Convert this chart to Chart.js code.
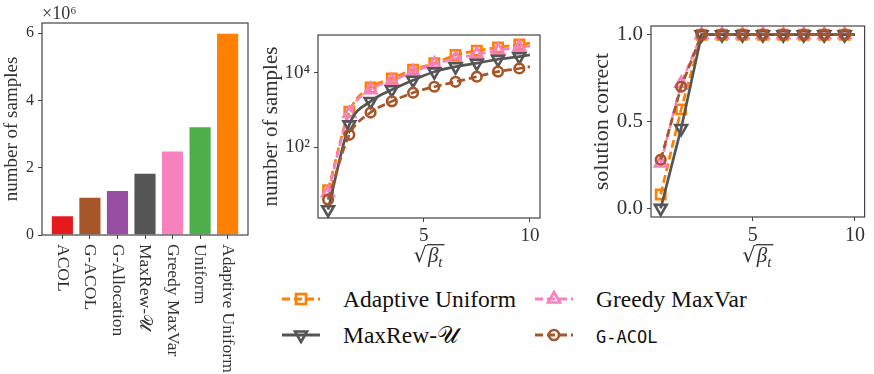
<!DOCTYPE html>
<html><head><meta charset="utf-8">
<script src="https://cdn.jsdelivr.net/npm/chart.js@4.4.1/dist/chart.umd.min.js"></script>
<style>
html,body{margin:0;padding:0;background:#fff;}
#wrap{position:relative;width:874px;height:374px;overflow:hidden;background:#fff;}
canvas{position:absolute;}
.leg{position:absolute;display:flex;align-items:center;height:30px;font-family:"Liberation Serif",serif;font-size:23.5px;color:#111;white-space:nowrap;}
.leg svg{margin-right:23px;flex:none;}
.mono{font-family:"DejaVu Sans Mono",monospace;font-size:17px;}
</style></head><body>
<div id="wrap">
<canvas id="bar" width="252" height="374" style="left:0;top:0"></canvas>
<canvas id="samp" width="300" height="270" style="left:252px;top:0"></canvas>
<canvas id="corr" width="314" height="270" style="left:560px;top:0"></canvas>
<div id="legend"></div>
</div>
<script>
// ---------------- data ----------------
const methods = ['ACOL', 'G-ACOL', 'G-Allocation', 'MaxRew-\u{1D4B0}', 'Greedy MaxVar', 'Uniform', 'Adaptive Uniform'];
const totalSamples = [0.59e6, 1.14e6, 1.34e6, 1.85e6, 2.51e6, 3.23e6, 6.01e6];
const barTicks = [0, 2e6, 4e6, 6e6];

const sqrtBeta = [0.5, 1.5, 2.5, 3.5, 4.5, 5.5, 6.5, 7.5, 8.5, 9.5, 10];
const seriesNames = ['Adaptive Uniform', 'Greedy MaxVar', 'MaxRew-\u{1D4B0}', 'G-ACOL'];

const samplesAdaptiveUniform = [7, 900, 4000, 7000, 12000, 18000, 30000, 39000, 48000, 57000, 62000];
const samplesGreedyMaxVar   = [6, 800, 3500, 6100, 10500, 17000, 24000, 31000, 40000, 48000, 52000];
const samplesMaxRew         = [2.1, 400, 1700, 3500, 6300, 10600, 14500, 18000, 23000, 27000, 30000];
const samplesGACOL          = [3.9, 215, 850, 1700, 2900, 4200, 5700, 7800, 10700, 13000, 14500];

const correctAdaptiveUniform = [0.08, 0.57, 1, 1, 1, 1, 1, 1, 1, 1, 1];
const correctGreedyMaxVar   = [0.26, 0.72, 1, 1, 1, 1, 1, 1, 1, 1, 1];
const correctMaxRew         = [0.0, 0.46, 1, 1, 1, 1, 1, 1, 1, 1, 1];
const correctGACOL          = [0.28, 0.70, 1, 1, 1, 1, 1, 1, 1, 1, 1];

const sampleTicks = [100, 10000];
const sampleTickLabels = ['10\u00B2', '10\u2074'];
const betaTicks = [5, 10];
const correctTicks = [0, 0.5, 1];
const correctTickLabels = ['0.0', '0.5', '1.0'];

// ---------------- styles ----------------
const barColors = ['#e41a1c', '#a65628', '#984ea3', '#555555', '#f781bf', '#4daf4a', '#ff7f00'];
const seriesStyle = [
  {color: '#ff7f00', dash: [8, 4], point: 'rect', rot: 0, r: 6.6, order: 4},
  {color: '#f781bf', dash: [8, 4], point: 'triangle', rot: 0, r: 6.8, order: 3},
  {color: '#555555', dash: [], point: 'triangle', rot: 180, r: 6.8, order: 2},
  {color: '#a65628', dash: [8, 4], point: 'circle', rot: 0, r: 4.8, order: 1}
];
const SERIF = '"Liberation Serif", "DejaVu Serif", serif';
const TXT = '#333';
const AX = '#444';

const fixW = w => s => { s.width = w; };
const fixH = h => s => { s.height = h; };
const setTicks = vals => s => { s.ticks = vals.map(v => ({value: v})); };

const framePlugin = {
  id: 'frame',
  afterDraw(chart) {
    const a = chart.chartArea, ctx = chart.ctx;
    ctx.save();
    ctx.strokeStyle = AX; ctx.lineWidth = 1.2;
    ctx.strokeRect(a.left, a.top, a.right - a.left, a.bottom - a.top);
    ctx.restore();
  }
};

function drawSqrtBeta(ctx, cx, baseY, size) {
  ctx.save();
  ctx.fillStyle = TXT; ctx.strokeStyle = TXT;
  ctx.textAlign = 'left'; ctx.textBaseline = 'alphabetic';
  const fR = size + 'px "DejaVu Serif", serif';
  const fB = 'italic ' + size + 'px ' + SERIF;
  const fS = 'italic ' + Math.round(size * 0.7) + 'px ' + SERIF;
  ctx.font = fR; const mR = ctx.measureText('\u221A');
  ctx.font = fB; const mB = ctx.measureText('\u03B2');
  ctx.font = fS; const mT = ctx.measureText('t');
  const total = mR.width + mB.width + mT.width + 3;
  let x = cx - total / 2;
  ctx.font = fR; ctx.fillText('\u221A', x, baseY);
  const topY = baseY - mR.actualBoundingBoxAscent + 0.7;
  const lineStart = x + mR.actualBoundingBoxRight - 0.5;
  x += mR.width + 1;
  ctx.font = fB; ctx.fillText('\u03B2', x, baseY);
  x += mB.width;
  ctx.font = fS; ctx.fillText('t', x, baseY + size * 0.22);
  x += mT.width + 2;
  ctx.lineWidth = 1.3;
  ctx.beginPath(); ctx.moveTo(lineStart, topY); ctx.lineTo(x, topY); ctx.stroke();
  ctx.restore();
}

const betaLabelPlugin = {
  id: 'betaLabel',
  afterDraw(chart, args, opts) {
    const a = chart.chartArea;
    drawSqrtBeta(chart.ctx, (a.left + a.right) / 2, opts.baseY, opts.size);
  }
};

// ---------------- bar chart ----------------
const barLabelPlugin = {
  id: 'barLabels',
  afterDraw(chart) {
    const ctx = chart.ctx, xs = chart.scales.x, top = chart.chartArea.bottom + 9;
    ctx.save();
    ctx.fillStyle = TXT; ctx.textBaseline = 'middle'; ctx.textAlign = 'left';
    ctx.font = '17.5px ' + SERIF;
    methods.forEach((m, i) => {
      ctx.save();
      ctx.translate(xs.getPixelForValue(i), top);
      ctx.rotate(Math.PI / 2);
      ctx.fillText(m, 0, 0);
      ctx.restore();
    });
    // offset text
    ctx.textBaseline = 'alphabetic';
    ctx.font = '18px ' + SERIF;
    ctx.fillText('\u00D710\u2076', chart.chartArea.left, 19);
    ctx.restore();
  }
};

new Chart(document.getElementById('bar'), {
  type: 'bar',
  data: {
    datasets: [{
      data: totalSamples.map((v, i) => ({x: i, y: v})),
      backgroundColor: barColors,
      borderColor: 'rgba(255,255,255,0.55)',
      borderWidth: 1,
      barPercentage: 0.84,
      categoryPercentage: 1.0
    }]
  },
  options: {
    responsive: false, animation: false,
    layout: {padding: {left: 0, right: 4, top: 23, bottom: 0}},
    plugins: {legend: {display: false}, tooltip: {enabled: false}},
    scales: {
      x: {
        type: 'linear', min: -0.74, max: 6.74, offset: false,
        afterBuildTicks: setTicks(methods.map((m, i) => i)),
        afterFit: fixH(139),
        ticks: {display: false},
        grid: {display: true, offset: false, drawOnChartArea: false, drawTicks: true, tickLength: 4, color: AX},
        border: {display: false}
      },
      y: {
        min: 0, max: 6.3e6,
        afterBuildTicks: setTicks(barTicks),
        afterFit: fixW(42),
        ticks: {font: {family: SERIF, size: 16}, color: TXT, padding: 4, callback: v => String(v / 1e6)},
        grid: {display: true, drawOnChartArea: false, drawTicks: true, tickLength: 4, color: AX},
        border: {display: false},
        title: {display: true, text: 'number of samples', font: {family: SERIF, size: 19}, color: TXT, padding: {top: 1, bottom: 0}}
      }
    }
  },
  plugins: [framePlugin, barLabelPlugin]
});

// ---------------- line charts ----------------
function buildDatasets(valueLists, smooth) {
  return valueLists.map((vals, k) => {
    const st = seriesStyle[k];
    return {
      label: seriesNames[k],
      data: sqrtBeta.map((x, i) => ({x: x, y: vals[i]})),
      borderColor: st.color,
      borderWidth: 2.7,
      borderDash: st.dash,
      pointStyle: st.point,
      pointRotation: st.rot,
      pointRadius: ctx => (ctx.dataIndex < sqrtBeta.length - 1 ? st.r : 0),
      pointBorderWidth: 2.6,
      pointBorderColor: st.color,
      pointBackgroundColor: 'rgba(0,0,0,0)',
      cubicInterpolationMode: smooth ? 'monotone' : 'default',
      tension: 0,
      order: st.order,
      clip: false
    };
  });
}

new Chart(document.getElementById('samp'), {
  type: 'line',
  data: {datasets: buildDatasets([samplesAdaptiveUniform, samplesGreedyMaxVar, samplesMaxRew, samplesGACOL], true)},
  options: {
    responsive: false, animation: false,
    layout: {padding: {left: 0, right: 12, top: 35, bottom: 0}},
    plugins: {legend: {display: false}, tooltip: {enabled: false}, betaLabel: {baseY: 262, size: 21}},
    scales: {
      x: {
        type: 'linear', min: 0.025, max: 10.475,
        afterBuildTicks: setTicks(betaTicks),
        afterFit: fixH(52),
        ticks: {font: {family: SERIF, size: 19}, color: TXT, padding: 3},
        grid: {display: true, drawOnChartArea: false, drawTicks: true, tickLength: 4, color: AX},
        border: {display: false}
      },
      y: {
        type: 'logarithmic', min: 1.25, max: 1.03e5,
        afterBuildTicks: setTicks(sampleTicks),
        afterFit: fixW(66),
        ticks: {font: {family: SERIF, size: 19}, color: TXT, padding: 4,
          callback: v => { const i = sampleTicks.indexOf(v); return i >= 0 ? sampleTickLabels[i] : ''; }},
        grid: {display: true, drawOnChartArea: false, drawTicks: true, tickLength: 4, color: AX},
        border: {display: false},
        title: {display: true, text: 'number of samples', font: {family: SERIF, size: 21}, color: TXT, padding: {top: 7, bottom: 0}}
      }
    }
  },
  plugins: [framePlugin, betaLabelPlugin]
});

new Chart(document.getElementById('corr'), {
  type: 'line',
  data: {datasets: buildDatasets([correctAdaptiveUniform, correctGreedyMaxVar, correctMaxRew, correctGACOL], false)},
  options: {
    responsive: false, animation: false,
    layout: {padding: {left: 0, right: 2, top: 26, bottom: 0}},
    plugins: {legend: {display: false}, tooltip: {enabled: false}, betaLabel: {baseY: 262, size: 21}},
    scales: {
      x: {
        type: 'linear', min: 0.025, max: 10.475,
        afterBuildTicks: setTicks(betaTicks),
        afterFit: fixH(53),
        ticks: {font: {family: SERIF, size: 20}, color: TXT, padding: 3},
        grid: {display: true, drawOnChartArea: false, drawTicks: true, tickLength: 4, color: AX},
        border: {display: false}
      },
      y: {
        min: -0.05, max: 1.05,
        afterBuildTicks: setTicks(correctTicks),
        afterFit: fixW(91),
        ticks: {font: {family: SERIF, size: 21}, color: TXT, padding: 4,
          callback: v => { const i = correctTicks.indexOf(v); return i >= 0 ? correctTickLabels[i] : ''; }},
        grid: {display: true, drawOnChartArea: false, drawTicks: true, tickLength: 4, color: AX},
        border: {display: false},
        title: {display: true, text: 'solution correct', font: {family: SERIF, size: 22}, color: TXT, padding: {top: 29, bottom: 0}}
      }
    }
  },
  plugins: [framePlugin, betaLabelPlugin]
});

// ---------------- legend (HTML) ----------------
function markerSvg(st) {
  const c = st.color;
  let m = '';
  if (st.point === 'rect') m = `<rect x="14" y="5" width="10" height="10" fill="none" stroke="${c}" stroke-width="2.6"/>`;
  else if (st.point === 'circle') m = `<circle cx="19" cy="10" r="5" fill="none" stroke="${c}" stroke-width="2.6"/>`;
  else if (st.rot === 0) m = `<polygon points="19,3 25,13.5 13,13.5" fill="none" stroke="${c}" stroke-width="2.6"/>`;
  else m = `<polygon points="19,17 25,6.5 13,6.5" fill="none" stroke="${c}" stroke-width="2.6"/>`;
  const dash = st.dash.length ? `stroke-dasharray="${st.dash.join(',')}"` : '';
  return `<svg width="38" height="20" viewBox="0 0 38 20"><line x1="0" y1="10" x2="38" y2="10" stroke="${c}" stroke-width="2.8" ${dash}/>${m}</svg>`;
}
const legendPos = [{left: 282, top: 284}, {left: 535, top: 284}, {left: 282, top: 320}, {left: 535, top: 320}];
const legendHtml = seriesNames.map((name, k) => {
  const p = legendPos[k];
  let label = name;
  if (name === 'G-ACOL') label = `<span class="mono">G-ACOL</span>`;
  return `<div class="leg" style="left:${p.left}px;top:${p.top}px">${markerSvg(seriesStyle[k])}<span>${label}</span></div>`;
}).join('');
document.getElementById('legend').innerHTML = legendHtml;
</script>
</body></html>
